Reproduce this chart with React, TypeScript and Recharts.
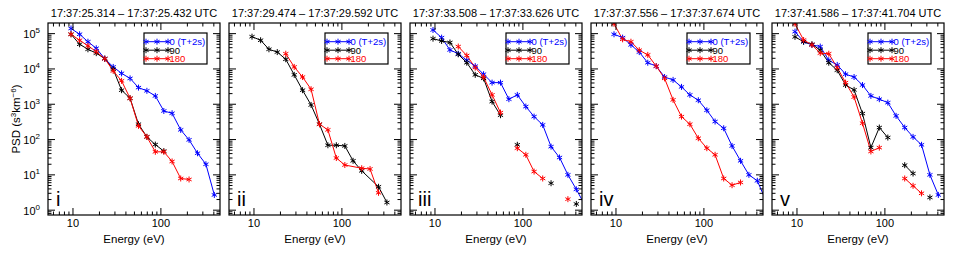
import React from 'react';
import { LineChart, Line, XAxis, YAxis } from 'recharts';

// energy channels (eV)
const ENERGY = [9.5, 11.9, 14.8, 18.4, 23.0, 28.7, 35.7, 44.6, 55.6, 69.3, 86.4, 108, 134, 168, 209, 261, 325, 405, 505];

const TITLES = [
  '17:37:25.314 – 17:37:25.432 UTC',
  '17:37:29.474 – 17:37:29.592 UTC',
  '17:37:33.508 – 17:37:33.626 UTC',
  '17:37:37.556 – 17:37:37.674 UTC',
  '17:37:41.586 – 17:37:41.704 UTC',
];
const PANEL_IDS = ['i', 'ii', 'iii', 'iv', 'v'];
const LEGEND = ['0 (T+2s)', '90', '180'];
const COLORS = ['#0000ff', '#000000', '#ff0000'];

// PSD values per pitch angle (0, 90, 180), aligned with ENERGY; null = no data
const P1_BLUE = [1.4e5, 9.6e4, 5.9e4, 3.85e4, 1.95e4, 1.14e4, 7.5e3, 5.4e3, 2.96e3, 2.4e3, 1.72e3, 645, 556, 188, 98, 41, 20, 2.7, null];
const P1_BLACK = [9.6e4, 5.0e4, 3.6e4, 2.8e4, 1.95e4, 9.8e3, 2.5e3, 1.48e3, 272, 119, 72, 47, null, null, null, null, null, null, null];
const P1_RED = [9.6e4, 6.5e4, 4.5e4, 3.1e4, 1.95e4, 8.8e3, 4.6e3, 1.48e3, 244, 119, 45, 45, 24, 7.9, 7.4, null, null, null, null];

const P2_BLUE: (number | null)[] = [];
const P2_BLACK = [8.2e4, 6.5e4, 3.6e4, 3.0e4, 1.88e4, 6.8e3, 2.5e3, 955, 272, 69, 69, 66, 25, 13, null, 4.6, 1.65, null, null];
const P2_RED = [null, null, null, null, 2.7e4, 1.14e4, 5.9e3, 2.66e3, 272, 188, 30, 19, null, 15.4, 14.7, 3.1, null, null, null];

const P3_BLUE = [1.27e5, 7.7e4, 3.45e4, 2.7e4, 1.76e4, 1.2e4, 7.1e3, 4.1e3, 4.1e3, 1.39e3, 1.84e3, 860, 447, 260, 63, 31, 10, 3.9, 1.4];
const P3_BLACK = [7.2e4, 6.2e4, 5.6e4, 2.6e4, 1.5e4, 6.8e3, 5.4e3, 1.19e3, 489, null, 71, null, null, null, 5.8, null, null, 1.5, null];
const P3_RED = [null, null, null, 4.3e4, 2.4e4, 1.09e4, 5.9e3, 1.84e3, 581, null, 57, 37, 12.4, 7.9, null, null, 2.05, null, null];

const P4_BLUE = [9.6e4, 7.7e4, 4.8e4, 3.0e4, 1.5e4, 1.2e4, 5.9e3, 4.9e3, 3.1e3, 1.84e3, 1.3e3, 676, 324, 209, 66, 25, 10, 6.8, 1.9];
const P4_BLACK: (number | null)[] = [];
const P4_RED = [1.9e5, 6.9e4, 5.9e4, 3.4e4, 2.5e4, 1.2e4, 5.4e3, 1.33e3, 447, 272, 109, 57, 37, 7.9, 5.1, 6.1, null, null, null];

const P5_BLUE = [1.14e5, 5.9e4, 4.8e4, 4.3e4, 1.76e4, 1.3e4, 7.1e3, 5.9e3, 3.5e3, 1.72e3, 1.39e3, 1.11e3, 468, 219, 119, 71, 10, 2.7, null];
const P5_BLACK = [8.1e4, 5.9e4, 5.0e4, 3.4e4, 1.5e4, 9.2e3, 3.5e3, 2.55e3, 545, 59, 219, 114, null, 18.8, 10.9, null, 2.3, null, null];
const P5_RED = [1.9e5, 6.6e4, 4.8e4, 2.8e4, 2.7e4, 1.09e4, 4.1e3, 1.6e3, 290, 46, 59, null, null, 7.9, 4.9, 3.0, null, null, null];

const PANELS = [
  [P1_BLUE, P1_BLACK, P1_RED],
  [P2_BLUE, P2_BLACK, P2_RED],
  [P3_BLUE, P3_BLACK, P3_RED],
  [P4_BLUE, P4_BLACK, P4_RED],
  [P5_BLUE, P5_BLACK, P5_RED],
];
// panel ii joins its points across missing channels
const CONNECT = [false, true, false, false, false];

const X_DOMAIN = [5.2, 470];
const Y_DOMAIN = [0.73, 2e5];
const X_MAJOR = [10, 100];
const X_MINOR = [6, 7, 8, 9, 20, 30, 40, 50, 60, 70, 80, 90, 200, 300, 400];
const Y_MAJOR = [1, 10, 100, 1000, 10000, 100000];
const Y_MINOR = [0.8, 0.9].concat(
  ...[1, 10, 100, 1000, 10000].map((d) => [2, 3, 4, 5, 6, 7, 8, 9].map((m) => m * d))
);

const FONT = '"Liberation Sans", Arial, Helvetica, sans-serif';
const PANEL_LEFT = [48, 229, 410, 591, 772];
const PLOT_W = 172;
const PLOT_H = 192;
const TOP = 23;
const AXIS = 20; // space given to each axis
const M_LEFT = 28;
const M_RIGHT = 12;
const M_BOTTOM = 28;

function Asterisk(props: any) {
  const { cx, cy, stroke, index, r = 3.5 } = props;
  if (cx == null || cy == null || Number.isNaN(cy)) return <g key={index} />;
  const d = [90, 30, 150]
    .map((a) => {
      const dx = r * Math.cos((a * Math.PI) / 180);
      const dy = r * Math.sin((a * Math.PI) / 180);
      return `M${cx - dx},${cy - dy}L${cx + dx},${cy + dy}`;
    })
    .join('');
  return <path key={index} d={d} stroke={stroke} strokeWidth={1} fill="none" />;
}

function XTick(props: any) {
  const { x, y, payload } = props;
  const major = X_MAJOR.includes(payload.value);
  const len = major ? 7 : 3.5;
  return (
    <g>
      <line x1={x} x2={x} y1={y} y2={y - len} stroke="#000" />
      <line x1={x} x2={x} y1={y - PLOT_H} y2={y - PLOT_H + len} stroke="#000" />
      {major && (
        <text x={x} y={y + 12} textAnchor="middle" fontSize={11} fontFamily={FONT} fill="#000">
          {payload.value}
        </text>
      )}
    </g>
  );
}

function YTick(props: any) {
  const { x, y, payload, showLabel } = props;
  const major = Y_MAJOR.includes(payload.value);
  const len = major ? 7 : 3.5;
  return (
    <g>
      <line x1={x} x2={x + len} y1={y} y2={y} stroke="#000" />
      <line x1={x + PLOT_W} x2={x + PLOT_W - len} y1={y} y2={y} stroke="#000" />
      {major && showLabel && (
        <text x={x - 8} y={y + 4.5} textAnchor="end" fontSize={11} fontFamily={FONT} fill="#000">
          10
          <tspan dy={-5} fontSize={8}>
            {Math.round(Math.log10(payload.value))}
          </tspan>
        </text>
      )}
    </g>
  );
}

function Panel({ idx }: { idx: number }) {
  const series = PANELS[idx];
  return (
    <div style={{ position: 'absolute', left: PANEL_LEFT[idx] - M_LEFT - AXIS, top: 0 }}>
      <LineChart
        width={M_LEFT + AXIS + PLOT_W + M_RIGHT}
        height={263}
        margin={{ top: TOP, right: M_RIGHT, bottom: M_BOTTOM, left: M_LEFT }}
      >
        <XAxis
          dataKey="e"
          type="number"
          scale="log"
          domain={X_DOMAIN}
          allowDataOverflow
          ticks={[...X_MAJOR, ...X_MINOR]}
          interval={0}
          tick={<XTick />}
          tickLine={false}
          axisLine={false}
          tickSize={0}
          tickMargin={0}
          height={AXIS}
        />
        <YAxis
          type="number"
          scale="log"
          domain={Y_DOMAIN}
          allowDataOverflow
          ticks={[...Y_MAJOR, ...Y_MINOR]}
          interval={0}
          tick={<YTick showLabel={idx === 0} />}
          tickLine={false}
          axisLine={false}
          tickSize={0}
          tickMargin={0}
          width={AXIS}
        />
        {series.map((vals, s) =>
          vals.length ? (
            <Line
              key={s}
              data={ENERGY.map((e, i) => ({ e, v: vals[i] }))}
              dataKey="v"
              stroke={COLORS[s]}
              strokeWidth={1}
              dot={(p: any) => <Asterisk {...p} key={p.index} stroke={COLORS[s]} />}
              activeDot={false}
              connectNulls={CONNECT[idx]}
              isAnimationActive={false}
            />
          ) : null
        )}
      </LineChart>
    </div>
  );
}

function Overlay() {
  return (
    <svg
      width={954}
      height={263}
      style={{ position: 'absolute', left: 0, top: 0, pointerEvents: 'none' }}
      fontFamily={FONT}
    >
      <text transform="translate(20,119) rotate(-90)" textAnchor="middle" fontSize={11.5} fill="#000">
        PSD (s<tspan dy={-4} fontSize={8}>3</tspan>
        <tspan dy={4}>km</tspan>
        <tspan dy={-4} fontSize={8}>−6</tspan>
        <tspan dy={4}>)</tspan>
      </text>
      {PANEL_LEFT.map((left, idx) => (
        <g key={idx}>
          <rect x={left} y={TOP} width={PLOT_W} height={PLOT_H} fill="none" stroke="#000" strokeWidth={1.2} />
          <text x={left + PLOT_W / 2} y={17} textAnchor="middle" fontSize={11} fill="#000">
            {TITLES[idx]}
          </text>
          <text x={left + PLOT_W / 2} y={243} textAnchor="middle" fontSize={11.5} fill="#000">
            Energy (eV)
          </text>
          <text x={left + 8} y={206} fontSize={20} fill="#000">
            {PANEL_IDS[idx]}
          </text>
          <rect x={left + 96} y={33} width={63} height={31} fill="#fff" stroke="#000" strokeWidth={1.2} />
          {LEGEND.map((name, s) => {
            const ry = 41.7 + s * 8.5;
            return (
              <g key={name}>
                <line x1={left + 98} x2={left + 120} y1={ry} y2={ry} stroke={COLORS[s]} />
                {[98, 109, 120].map((px) => (
                  <Asterisk key={px} cx={left + px} cy={ry} r={3} stroke={COLORS[s]} index={px} />
                ))}
                <text x={left + 121.5} y={ry + 3.4} fontSize={9.5} fill={COLORS[s]}>
                  {name}
                </text>
              </g>
            );
          })}
        </g>
      ))}
    </svg>
  );
}

export default function App() {
  return (
    <div style={{ position: 'absolute', left: 0, top: 0, width: 954, height: 263, background: '#fff' }}>
      {PANEL_LEFT.map((_, idx) => (
        <Panel key={idx} idx={idx} />
      ))}
      <Overlay />
    </div>
  );
}
